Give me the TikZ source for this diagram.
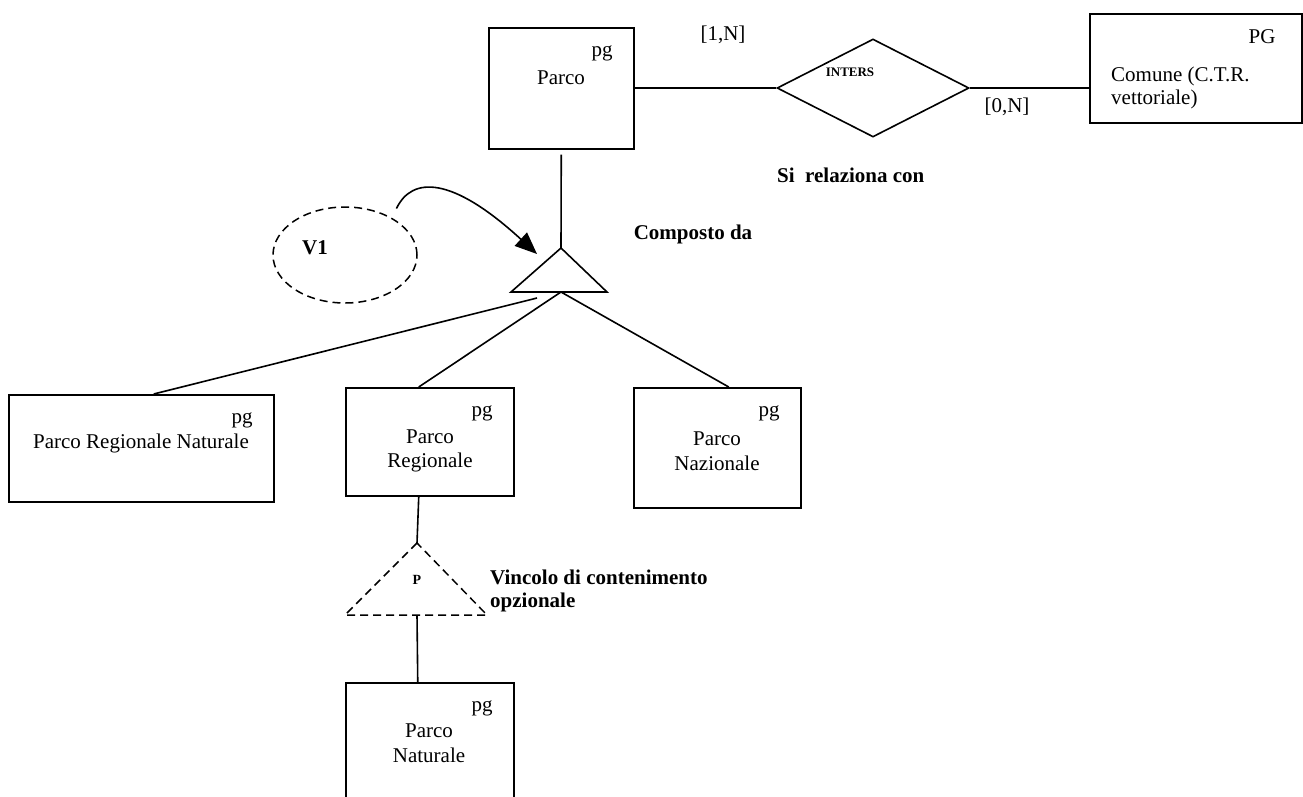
\documentclass[tikz,border=0pt]{standalone}
\usepackage{fontspec}
\setmainfont{Liberation Serif}
\usetikzlibrary{shapes.geometric,arrows.meta}

\begin{document}
\begin{tikzpicture}[x=1pt,y=-1pt,
  ent/.style={draw,line width=1.5pt,inner sep=0pt,anchor=north west},
  txt/.style={inner sep=0pt,font=\fontsize{21}{24.5}\selectfont,align=center},
  ltxt/.style={inner sep=0pt,font=\fontsize{21}{22.5}\selectfont,align=left},
  btxt/.style={inner sep=0pt,font=\fontsize{21}{23.5}\selectfont\bfseries,align=left},
  small/.style={inner sep=0pt,font=\fontsize{13}{14}\selectfont\bfseries},
  conn/.style={line width=1.6pt},
  dsh/.style={line width=1.5pt,dash pattern=on 8pt off 5pt}]
\useasboundingbox (0,0) rectangle (1303,796);
\clip (0,0) rectangle (1303,796);

% entity boxes
\node[ent,minimum width=145pt,minimum height=121pt] (parco)  at (488,27)  {};
\node[ent,minimum width=212pt,minimum height=109pt] (comune) at (1089,13) {};
\node[ent,minimum width=265pt,minimum height=107pt] (prn)    at (8,394)   {};
\node[ent,minimum width=168pt,minimum height=108pt] (preg)   at (345,387) {};
\node[ent,minimum width=167pt,minimum height=120pt] (pnaz)   at (633,387) {};
\node[ent,minimum width=168pt,minimum height=140pt] (pnat)   at (345,682) {};

% entity texts
\node[txt] (parcoG) at (602,53) {pg};
\node[txt] (parcoT) at (561,78) {Parco};
\node[txt] (comuneG) at (1262,37) {PG};
\node[ltxt,anchor=west] (comuneT) at (1111,88) {Comune (C.T.R.\\vettoriale)};
\node[txt] (prnG) at (242,420) {pg};
\node[txt] (prnT) at (141,443) {Parco Regionale Naturale};
\node[txt] (pregG) at (482,413) {pg};
\node[txt] (pregT) at (430,451) {Parco\\Regionale};
\node[txt] (pnazG) at (769,413) {pg};
\node[txt] (pnazT) at (717,451) {Parco\\Nazionale};
\node[txt] (pnatG) at (482,708) {pg};
\node[txt] (pnatT) at (429,743) {Parco\\Naturale};

% relationship
\node[draw,diamond,conn,minimum width=192pt,minimum height=98pt,inner sep=0pt] (rel) at (873,88) {};
\node[small] (relT) at (850,72) {INTERS};
\draw[conn] (parco.east) -- (parco.east -| rel.west);
\draw[conn] (rel.east) -- (rel.east -| comune.west);
\node[txt] (card1) at (723,35) {[1,N]};
\node[txt] (card2) at (1007,107) {[0,N]};
\node[btxt,anchor=west] (relname) at (777,175) {Si\ \ relaziona con};

% composition triangle
\coordinate (ta) at (561,248);
\coordinate (tl) at (511,292);
\coordinate (tr) at (607,292);
\coordinate (tb) at (561,292);
\coordinate (tside) at (537,298);
\draw[conn,line join=miter] (ta) -- (tl) -- (tr) -- cycle;
\draw[conn] ([yshift=-5pt]parco.south) -- (ta);
\draw[conn] (tb) -- ([xshift=-11pt]preg.north);
\draw[conn] (tb) -- ([xshift=11.5pt]pnaz.north);
\draw[conn] (tside) -- ([xshift=12.5pt]prn.north);
\node[btxt] (compT) at (693,234) {Composto da};

% constraint V1
\node[draw,ellipse,dsh,minimum width=144pt,minimum height=96pt,inner sep=0pt] (v1) at (345,255) {};
\node[btxt] (v1T) at (315,248) {V1};
\coordinate (tip) at (537,254);
\draw[conn,-{Triangle[length=22pt,width=18pt]}] ([yshift=12pt]v1.north east)
  .. controls (412,176) and (452,176) .. (tip);

% optional containment triangle
\coordinate (da) at (417,543);
\coordinate (dl) at (345,615);
\coordinate (dr) at (487,615);
\coordinate (db) at (417,615);
\draw[dsh] (da) -- (dl) -- (dr) -- cycle;
\draw[conn] ([xshift=-11pt]preg.south) -- (da);
\draw[conn] (db) -- ([xshift=-12pt]pnat.north);
\node[small,font=\fontsize{14}{15}\selectfont\bfseries] (dT) at (417,580) {P};
\node[btxt,anchor=west] (dlabel) at (490,591) {Vincolo di contenimento\\opzionale};
\end{tikzpicture}
\end{document}
